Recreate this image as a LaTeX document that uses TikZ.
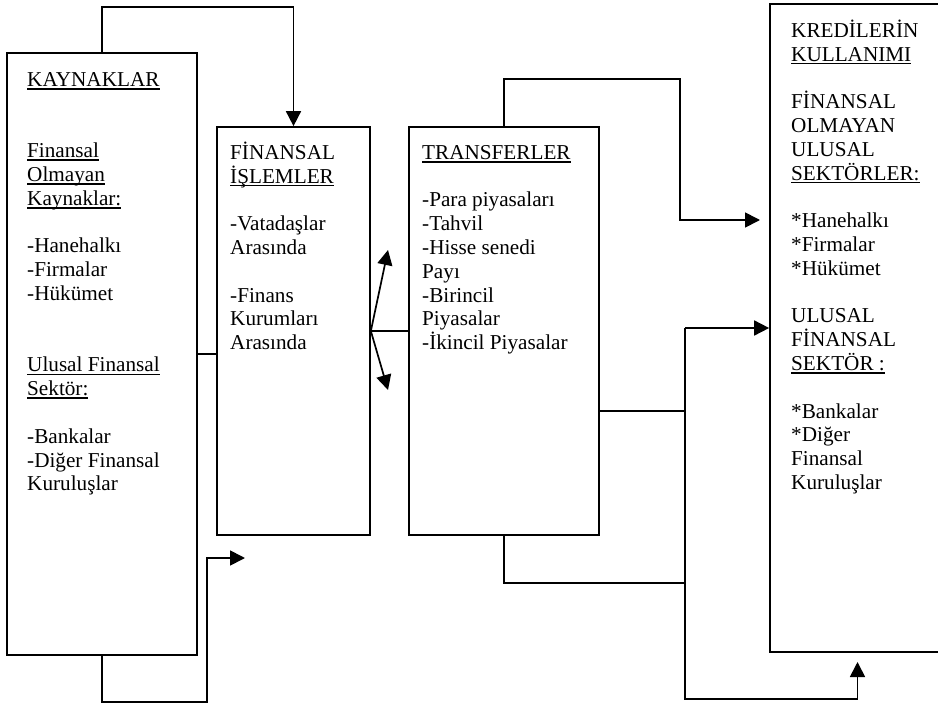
\documentclass[tikz,border=0pt]{standalone}
\usepackage{fontspec}
\setmainfont{Liberation Serif}
\usetikzlibrary{arrows.meta}
\newsavebox\ulbox
\newcommand\ulx[1]{\sbox\ulbox{#1}\rlap{\rule[-3.4pt]{\wd\ulbox}{1.6pt}}\usebox\ulbox}
\newcommand\fs{\rule{0pt}{18pt}}
\begin{document}
\begin{tikzpicture}[x=1pt,y=-1pt,
  box/.style={draw, line width=1.7pt, inner sep=0pt},
  txt/.style={anchor=north west, align=left, inner sep=0pt, font=\fontsize{21.2}{23.8}\selectfont},
  conn/.style={line width=1.7pt},
  arr/.style={conn, -{Triangle[length=15pt,width=15pt]}}]
\useasboundingbox (0,0) rectangle (938,704);
% boxes
\node[box, minimum width=190pt, minimum height=602pt] (kay) at (102,354) {};
\node[box, minimum width=153pt, minimum height=408pt] (fin) at (293.5,331) {};
\node[box, minimum width=190pt, minimum height=408pt] (tra) at (504,331) {};
\node[box, minimum width=175pt, minimum height=648pt] (kre) at (857.5,328) {};
% texts
\node[txt] (kayt) at (27,68) {\fs\ulx{KAYNAKLAR}\\ \mbox{}\\ \mbox{}\\ \ulx{Finansal}\\ \ulx{Olmayan}\\ \ulx{Kaynaklar:}\\ \mbox{}\\ -Hanehalkı\\ -Firmalar\\ -Hükümet\\ \mbox{}\\ \mbox{}\\ \ulx{Ulusal Finansal}\\ \ulx{Sektör:}\\ \mbox{}\\ -Bankalar\\ -Diğer Finansal\\ Kuruluşlar};
\node[txt] (fint) at (230,141) {\fs FİNANSAL\\ \ulx{İŞLEMLER}\\ \mbox{}\\ -Vatadaşlar\\ Arasında\\ \mbox{}\\ -Finans\\ Kurumları\\ Arasında};
\node[txt] (trat) at (422,141) {\fs\ulx{TRANSFERLER}\\ \mbox{}\\ -Para piyasaları\\ -Tahvil\\ -Hisse senedi\\ Payı\\ -Birincil\\ Piyasalar\\ -İkincil Piyasalar};
\node[txt] (kret) at (791,19) {\fs KREDİLERİN\\ \ulx{KULLANIMI}\\ \mbox{}\\ FİNANSAL\\ OLMAYAN\\ ULUSAL\\ \ulx{SEKTÖRLER:}\\ \mbox{}\\ *Hanehalkı\\ *Firmalar\\ *Hükümet\\ \mbox{}\\ ULUSAL\\ FİNANSAL\\ \ulx{SEKTÖR :}\\ \mbox{}\\ *Bankalar\\ *Diğer\\ Finansal\\ Kuruluşlar};
% coordinates
\coordinate (inA) at (245,558);
\coordinate (up) at (388,250);
\coordinate (dn) at (388,390);
\coordinate (trend) at (760,220);
\coordinate (jt) at (685,328);
\coordinate (jb) at (685,699);
\coordinate (krb) at (857.5,662);
% connectors
\draw[arr] (kay.north) -- (102,7) -| (fin.north);
\draw[arr] (kay.south) -- (102,702) -- (207,702) -- (207,558) -- (inA);
\draw[conn] (kay.east) -- (kay.east -| fin.west);
\draw[conn] (fin.east) -- (tra.west);
\draw[arr] (fin.east) -- (up);
\draw[arr] (fin.east) -- (dn);
\draw[arr] (tra.north) -- (504,79) -- (680,79) -- (680,220) -- (trend);
\draw[conn] ([yshift=-80pt]tra.east) -- ([yshift=-80pt]tra.east -| jt);
\draw[conn] (tra.south) -- (504,583) -- (685,583);
\draw[arr] (jt) -- (kre.west);
\draw[arr] (jt) -- (jb) -| (krb);
\end{tikzpicture}
\end{document}
